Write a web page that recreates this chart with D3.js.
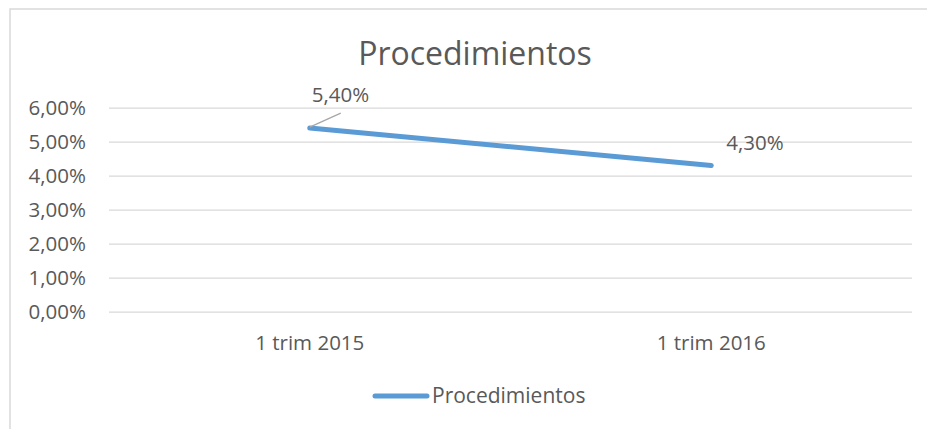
<!DOCTYPE html>
<html>
<head>
<meta charset="utf-8">
<script src="https://cdn.jsdelivr.net/npm/d3@7"></script>
<style>
  body { margin: 0; background: #fff; }
  text { font-family: "Open Sans", sans-serif; fill: #595959; }
</style>
</head>
<body>
<div id="chart"></div>
<script>
// data
const categories = ["1 trim 2015", "1 trim 2016"];
const values = [0.054, 0.043];
const yTicks = [0, 0.01, 0.02, 0.03, 0.04, 0.05, 0.06];
const seriesName = "Procedimientos";
const title = "Procedimientos";

const width = 927, height = 429;
const fs = 20.5;
const fmt = d => d3.format(".2f")(d * 100).replace(".", ",") + "%";

let svg = d3.select("#chart").append("svg")
  .attr("width", width)
  .attr("height", height);

// chart area border
svg.append("rect")
  .attr("x", 10).attr("y", 9)
  .attr("width", width).attr("height", height)
  .attr("fill", "none")
  .attr("stroke", "#d9d9d9")
  .attr("stroke-width", 1.5);

let xScale = d3.scaleBand()
  .domain(categories)
  .range([109, 912]);

let yScale = d3.scaleLinear()
  .domain([0, 0.06])
  .range([311.7, 107.7]);

// gridlines + y labels
let yAxis = d3.axisLeft(yScale)
  .tickValues(yTicks)
  .tickFormat(fmt)
  .tickSize(-(912 - 109))
  .tickPadding(23);

let gy = svg.append("g")
  .attr("transform", "translate(109,0)")
  .call(yAxis);
gy.select(".domain").remove();
gy.selectAll("line").attr("stroke", "#d9d9d9").attr("stroke-width", 1.3);
gy.selectAll("text").attr("font-size", fs).attr("fill", "#595959")
  .style("font-family", "'Open Sans', sans-serif");

// x labels
let xAxis = d3.axisBottom(xScale).tickSize(0).tickPadding(24);
let gx = svg.append("g")
  .attr("transform", "translate(0,311.7)")
  .call(xAxis);
gx.select(".domain").remove();
gx.selectAll("text").attr("font-size", fs).attr("fill", "#595959")
  .style("font-family", "'Open Sans', sans-serif");

// title
svg.append("text")
  .attr("x", 475).attr("y", 65)
  .attr("text-anchor", "middle")
  .attr("font-size", 32)
  .text(title);

// line
let px = i => xScale(categories[i]) + xScale.bandwidth() / 2;
let line = d3.line()
  .x((d, i) => px(i))
  .y(d => yScale(d));

svg.append("path")
  .datum(values)
  .attr("d", line)
  .attr("fill", "none")
  .attr("stroke", "#5b9bd5")
  .attr("stroke-width", 5)
  .attr("stroke-linecap", "round");

// data labels
svg.append("line")
  .attr("x1", px(0)).attr("y1", yScale(values[0]) - 1)
  .attr("x2", px(0) + 31).attr("y2", yScale(values[0]) - 15)
  .attr("stroke", "#a6a6a6").attr("stroke-width", 1.2);

svg.append("text")
  .attr("x", px(0) + 2).attr("y", 102)
  .attr("font-size", fs)
  .text(fmt(values[0]));

svg.append("text")
  .attr("x", px(1) + 15).attr("y", yScale(values[1]) - 15.5)
  .attr("font-size", fs)
  .text(fmt(values[1]));

// legend
svg.append("line")
  .attr("x1", 375).attr("x2", 427)
  .attr("y1", 396).attr("y2", 396)
  .attr("stroke", "#5b9bd5")
  .attr("stroke-width", 5)
  .attr("stroke-linecap", "round");

svg.append("text")
  .attr("x", 432).attr("y", 403)
  .attr("font-size", 21)
  .text(seriesName);
</script>
</body>
</html>
